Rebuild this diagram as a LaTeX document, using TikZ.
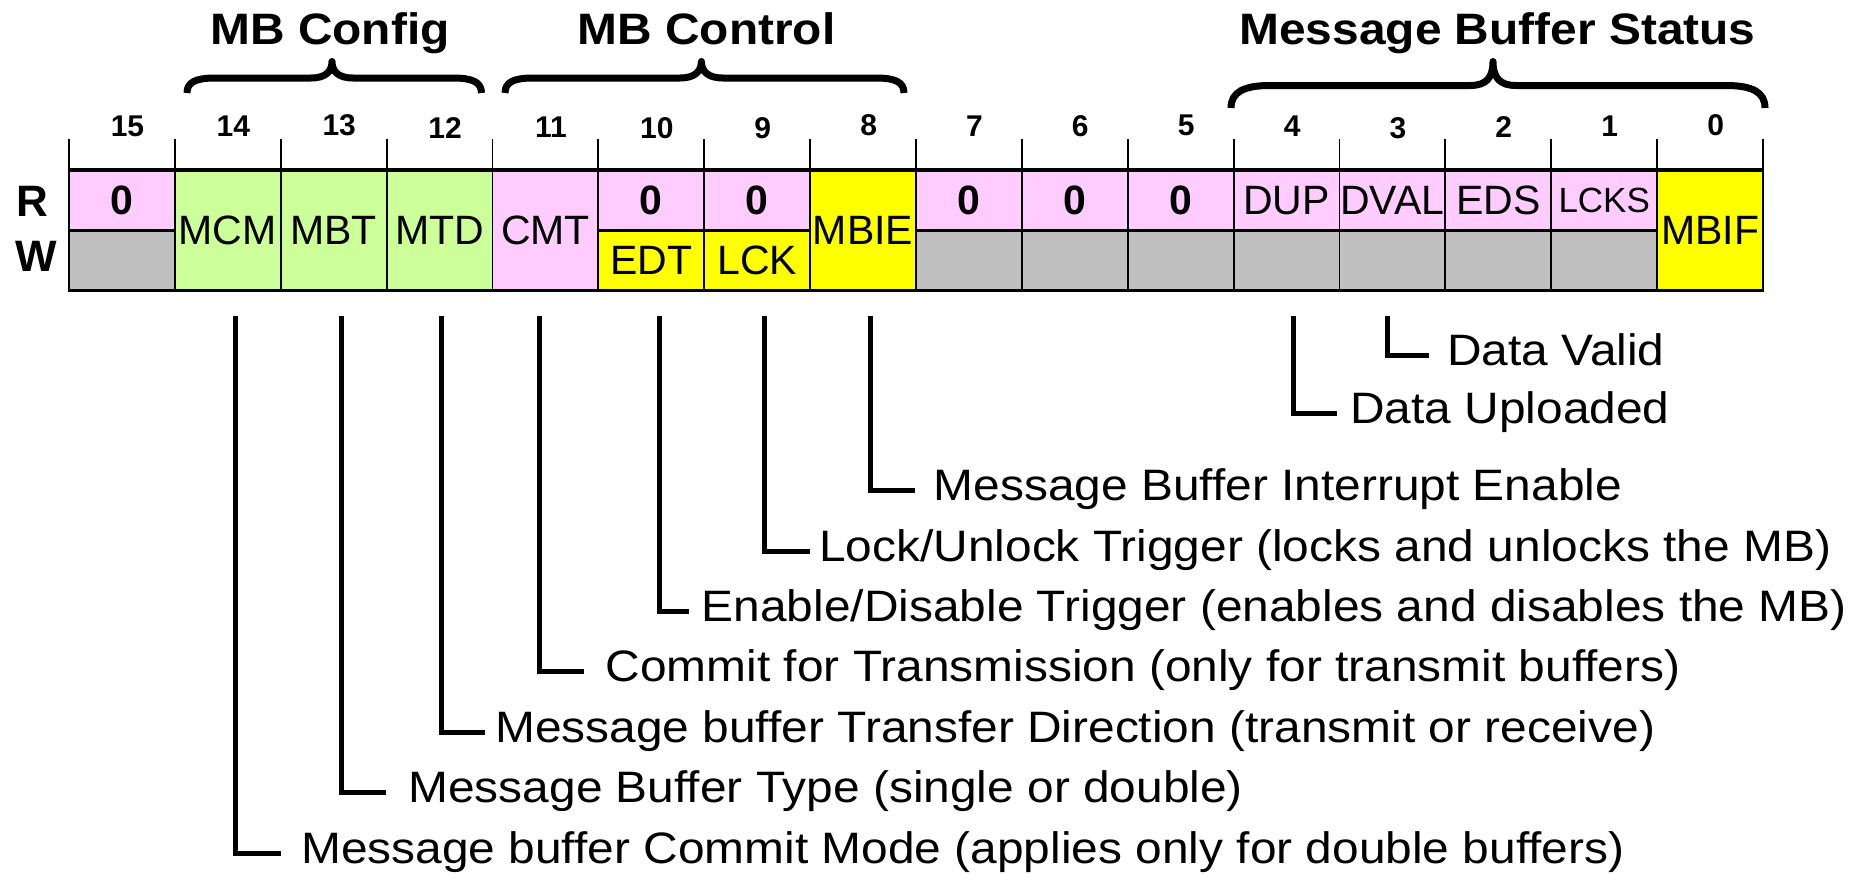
\documentclass[tikz,border=0pt]{standalone}
\usepackage{fontspec}
\setmainfont{Liberation Sans}
\newfontfamily\mbwide{Liberation Sans}[FakeStretch=1.088]

\definecolor{mbpink}{HTML}{FFCCFF}
\definecolor{mbgreen}{HTML}{CCFF99}
\definecolor{mbyellow}{HTML}{FFFF00}
\definecolor{mbgray}{HTML}{C0C0C0}

\newcommand\mbcellfont{\fontsize{41}{41}\selectfont}
\newcommand\mbsmallfont{\fontsize{35}{35}\selectfont}
\newcommand\mbzerofont{\fontsize{41}{41}\selectfont\bfseries}
\newcommand\mbbitfont{\fontsize{30}{30}\selectfont\bfseries}
\newcommand\mbheadfont{\mbwide\fontsize{44}{44}\selectfont\bfseries}
\newcommand\mbdescfont{\mbwide\fontsize{44}{44}\selectfont}

\begin{document}
\begin{tikzpicture}[x=1pt,y=-1pt,
  cellbox/.style={draw=black, line width=1.8pt, inner sep=0pt, outer sep=0pt,
                  minimum width=105.875pt, font=\mbcellfont},
  half/.style={cellbox, minimum height=60.35pt},
  full/.style={cellbox, minimum height=120.7pt},
  zero/.style={font=\mbzerofont},
  bitnum/.style={anchor=base, inner sep=0pt, font=\mbbitfont},
  headtxt/.style={anchor=base, inner sep=0pt, font=\mbheadfont},
  rwtxt/.style={inner sep=0pt, font=\fontsize{44}{44}\selectfont\bfseries},
  desc/.style={anchor=west, inner sep=0pt, text height=32pt, text depth=12pt, font=\mbdescfont},
  leader/.style={draw=black, line width=5pt, miter limit=4, shorten <=25.3pt},
  bracestroke/.style={draw=black, line width=7pt, line cap=butt, line join=round},
  tick/.style={draw=black, line width=1.8pt},
  rule/.style={draw=black, line width=3.2pt}]

\useasboundingbox (0,0) rectangle (1867,873);
\fill[white] (0,0) rectangle (1867,873);

% group headings
\node[headtxt] (hcfg) at (330,44.5) {MB Config};
\node[headtxt] (hctl) at (706.5,44.5) {MB Control};
\node[headtxt] (hsts) at (1497.5,44.5) {Message Buffer Status};

% curly braces under the headings
\draw[bracestroke] (187,93) .. controls (187,82) and (196,78) .. (215,78) -- (311,78)
  .. controls (325,78) and (332,72) .. (332,61.5)
  .. controls (332,72) and (339,78) .. (353,78) -- (453,78)
  .. controls (472,78) and (481.5,82) .. (481.5,93);
\draw[bracestroke] (505,93) .. controls (505,82) and (514,78) .. (533,78) -- (680,78)
  .. controls (694,78) and (701.4,72) .. (701.4,61.5)
  .. controls (701.4,72) and (708.8,78) .. (722.8,78) -- (876,78)
  .. controls (895,78) and (904,82) .. (904,93);
\draw[bracestroke] (1231,108) .. controls (1231,92) and (1244,85.5) .. (1270,85.5) -- (1470,85.5)
  .. controls (1486,85.5) and (1493,78) .. (1493,61.5)
  .. controls (1493,78) and (1500,85.5) .. (1516,85.5) -- (1726,85.5)
  .. controls (1752,85.5) and (1765,92) .. (1765,108);

% bit numbers
\node[bitnum] (b15) at (127.5,136.7) {15};
\node[bitnum] (b14) at (233.3,136.7) {14};
\node[bitnum] (b13) at (339.2,135) {13};
\node[bitnum] (b12) at (445.1,138) {12};
\node[bitnum] (b11) at (550.9,137) {11};
\node[bitnum] (b10) at (656.8,138) {10};
\node[bitnum] (b9) at (762.7,138) {9};
\node[bitnum] (b8) at (868.6,135) {8};
\node[bitnum] (b7) at (974.4,136.7) {7};
\node[bitnum] (b6) at (1080.3,136.7) {6};
\node[bitnum] (b5) at (1186.2,135) {5};
\node[bitnum] (b4) at (1292.1,136.7) {4};
\node[bitnum] (b3) at (1397.9,138) {3};
\node[bitnum] (b2) at (1503.8,137.5) {2};
\node[bitnum] (b1) at (1609.7,136.7) {1};
\node[bitnum] (b0) at (1715.6,135) {0};

% tick marks between bit positions
\foreach \i in {0,...,16}
  \draw[tick] ({69+\i*105.875},139) -- ({69+\i*105.875},170);

% read / write row labels
\node[rwtxt] (rlab) at (32,201) {R};
\node[rwtxt] (wlab) at (36,256) {W};

% register cells
\node[half, fill=mbpink, zero] (r15) at (122.0,200.175) {0};
\node[half, fill=mbgray] (w15) at (122.0,260.525) {};
\node[full, fill=mbgreen] (c14) at (227.8,230.35) {MCM};
\node[full, fill=mbgreen] (c13) at (333.7,230.35) {MBT};
\node[full, fill=mbgreen] (c12) at (439.6,230.35) {MTD};
\node[full, fill=mbpink] (c11) at (545.4,230.35) {CMT};
\node[half, fill=mbpink, zero] (r10) at (651.3,200.175) {0};
\node[half, fill=mbyellow] (w10) at (651.3,260.525) {EDT};
\node[half, fill=mbpink, zero] (r9) at (757.2,200.175) {0};
\node[half, fill=mbyellow] (w9) at (757.2,260.525) {LCK};
\node[full, fill=mbyellow] (c8) at (863.1,230.35) {MBIE};
\node[half, fill=mbpink, zero] (r7) at (968.9,200.175) {0};
\node[half, fill=mbgray] (w7) at (968.9,260.525) {};
\node[half, fill=mbpink, zero] (r6) at (1074.8,200.175) {0};
\node[half, fill=mbgray] (w6) at (1074.8,260.525) {};
\node[half, fill=mbpink, zero] (r5) at (1180.7,200.175) {0};
\node[half, fill=mbgray] (w5) at (1180.7,260.525) {};
\node[half, fill=mbpink] (r4) at (1286.6,200.175) {DUP};
\node[half, fill=mbgray] (w4) at (1286.6,260.525) {};
\node[half, fill=mbpink] (r3) at (1392.4,200.175) {DVAL};
\node[half, fill=mbgray] (w3) at (1392.4,260.525) {};
\node[half, fill=mbpink] (r2) at (1498.3,200.175) {EDS};
\node[half, fill=mbgray] (w2) at (1498.3,260.525) {};
\node[half, fill=mbpink, font=\mbsmallfont] (r1) at (1604.2,200.175) {LCKS};
\node[half, fill=mbgray] (w1) at (1604.2,260.525) {};
\node[full, fill=mbyellow] (c0) at (1710.1,230.35) {MBIF};

% heavy horizontal rules of the register
\draw[rule] (r15.north west) -- (c0.north east);
\draw[rule] (w15.south west) -- (c0.south east);
\draw[rule] (r15.south west) -- (r15.south east);
\draw[rule] (r10.south west) -- (r9.south east);
\draw[rule] (r7.south west) -- (r1.south east);

% field descriptions
\node[desc] (d3) at (1447,355) {Data Valid};
\node[desc] (d4) at (1350,413.3) {Data Uploaded};
\node[desc] (d8) at (933.5,490) {Message Buffer Interrupt Enable};
\node[desc] (d9) at (819,551.5) {Lock/Unlock Trigger (locks and unlocks the MB)};
\node[desc] (d10) at (701.5,611.4) {Enable/Disable Trigger (enables and disables the MB)};
\node[desc] (d11) at (605.5,671) {Commit for Transmission (only for transmit buffers)};
\node[desc] (d12) at (495,732.4) {Message buffer Transfer Direction (transmit or receive)};
\node[desc] (d13) at (408.2,792.7) {Message Buffer Type (single or double)};
\node[desc] (d14) at (301,853) {Message buffer Commit Mode (applies only for double buffers)};

% leaders from the fields to their descriptions
\draw[leader, shorten >=18.5pt] ([xshift=-5.4pt]w3.south) |- (d3.west);
\draw[leader, shorten >=12.7pt] ([xshift=6.5pt]w4.south) |- (d4.west);
\draw[leader, shorten >=18.5pt] ([xshift=7.3pt]c8.south) |- (d8.west);
\draw[leader, shorten >=9.3pt] ([xshift=7.6pt]w9.south) |- (d9.west);
\draw[leader, shorten >=12.7pt] ([xshift=7.9pt]w10.south) |- (d10.west);
\draw[leader, shorten >=21.5pt] ([xshift=-6pt]c11.south) |- (d11.west);
\draw[leader, shorten >=10.3pt] ([xshift=1.5pt]c12.south) |- (d12.west);
\draw[leader, shorten >=22.2pt] ([xshift=7.6pt]c13.south) |- (d13.west);
\draw[leader, shorten >=20.4pt] ([xshift=7.9pt]c14.south) |- (d14.west);

\end{tikzpicture}
\end{document}
